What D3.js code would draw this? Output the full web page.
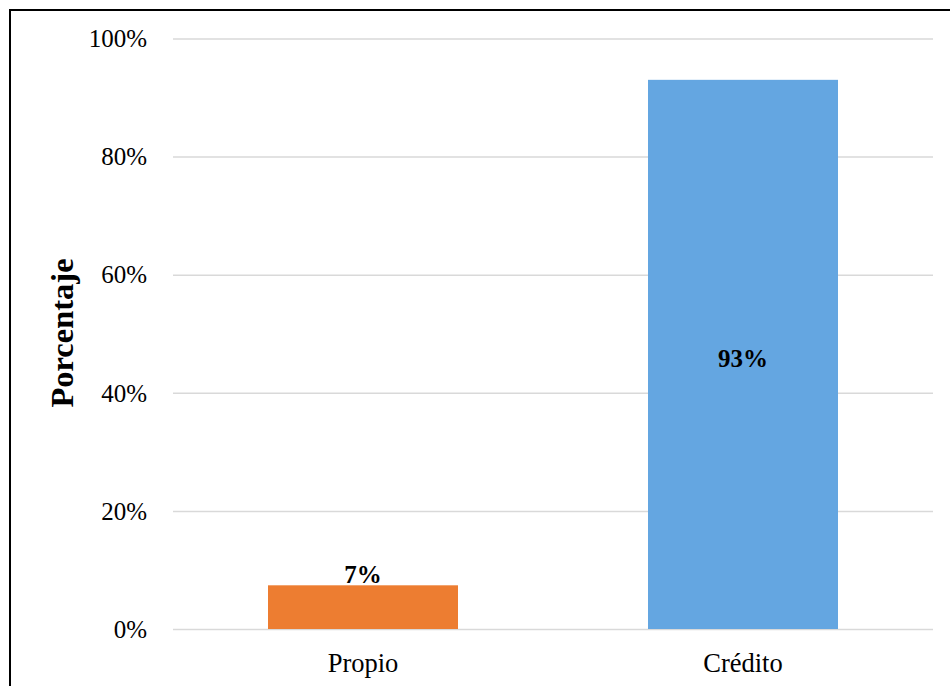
<!DOCTYPE html>
<html>
<head>
<meta charset="utf-8">
<script src="https://cdn.jsdelivr.net/npm/d3@7"></script>
<style>
  html, body { margin: 0; padding: 0; background: #fff; }
  svg { display: block; }
  svg text { font-family: "Liberation Serif", "Times New Roman", serif; }
</style>
</head>
<body>
<svg id="chart" width="950" height="686"></svg>
<script>
const categories = ["Propio", "Crédito"];
const values = [0.074, 0.93];
const colors = ["#ED7D31", "#64A6E1"];
const yTicks = [0, 0.2, 0.4, 0.6, 0.8, 1.0];
const yTitle = "Porcentaje";

const svg = d3.select("#chart");
const W = 950, H = 686;
const m = { left: 173, right: 17, top: 38.5, bottom: 57 };

// outer frame
svg.append("rect").attr("x", 10).attr("y", 10).attr("width", 1000).attr("height", 1000)
  .attr("fill", "none").attr("stroke", "#000").attr("stroke-width", 2);

const x = d3.scaleBand().domain(categories).range([m.left, W - m.right])
  .paddingInner(0.5).paddingOuter(0.25);
const y = d3.scaleLinear().domain([0, 1]).range([H - m.bottom, m.top]);

// gridlines + y labels
const yAxis = d3.axisLeft(y).tickValues(yTicks).tickFormat(d3.format(".0%"))
  .tickSize(-(W - m.right - m.left)).tickPadding(26);
const gy = svg.append("g").attr("transform", `translate(${m.left},0)`).call(yAxis)
  .attr("font-family", null).attr("font-size", null);
gy.select(".domain").remove();
gy.selectAll(".tick line").attr("stroke", "#d9d9d9").attr("stroke-width", 1.5);
gy.selectAll(".tick text").attr("fill", "#000").attr("font-size", 25).attr("dy", "0.33em");

// bars
svg.append("g").selectAll("rect").data(categories).join("rect")
  .attr("x", d => x(d))
  .attr("y", (d, i) => y(values[i]))
  .attr("width", x.bandwidth())
  .attr("height", (d, i) => y(0) - y(values[i]))
  .attr("fill", (d, i) => colors[i]);

// data labels
svg.append("g").selectAll("text").data(categories).join("text")
  .attr("x", d => x(d) + x.bandwidth() / 2)
  .attr("y", (d, i) => i === 0 ? y(values[i]) - 2 : (y(values[i]) + y(0)) / 2 + 13)
  .attr("text-anchor", "middle")
  .attr("font-size", 25).attr("font-weight", "bold")
  .text((d, i) => d3.format(".0%")(values[i]));

// x axis labels
const xAxis = d3.axisBottom(x).tickSize(0).tickPadding(24);
const gx = svg.append("g").attr("transform", `translate(0,${H - m.bottom})`).call(xAxis)
  .attr("font-family", null).attr("font-size", null);
gx.select(".domain").remove();
gx.selectAll(".tick text").attr("fill", "#000").attr("font-size", 26.5);

// y title
svg.append("text")
  .attr("transform", `translate(73,333) rotate(-90)`)
  .attr("text-anchor", "middle")
  .attr("font-size", 32.5).attr("font-weight", "bold")
  .text(yTitle);
</script>
</body>
</html>
